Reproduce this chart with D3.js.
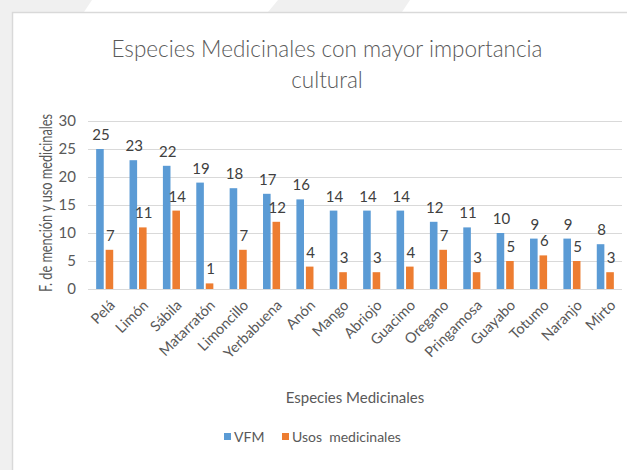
<!DOCTYPE html>
<html lang="es">
<head>
<meta charset="utf-8">
<title>Especies Medicinales</title>
<script src="https://cdnjs.cloudflare.com/ajax/libs/d3/7.8.5/d3.min.js"></script>
<style>
  body { margin: 0; background: #f0f0f0; }
  svg text { font-family: Lato, "Open Sans", sans-serif; fill: #595959; }
</style>
</head>
<body>
<div id="chart"></div>
<script>
// data
var especies = ["Pelá", "Limón", "Sábila", "Matarratón", "Limoncillo", "Yerbabuena", "Anón", "Mango",
                "Abriojo", "Guacimo", "Oregano", "Pringamosa", "Guayabo", "Totumo", "Naranjo", "Mirto"];
var vfm = [25, 23, 22, 19, 18, 17, 16, 14, 14, 14, 12, 11, 10, 9, 9, 8];
var usos = [7, 11, 14, 1, 7, 12, 4, 3, 3, 4, 7, 3, 5, 6, 5, 3];
var series = ["VFM", "Usos  medicinales"];
var colores = ["#5b9bd5", "#ed7d31"];
var yTicks = [0, 5, 10, 15, 20, 25, 30];

var width = 627, height = 470;
var svg = d3.select("#chart").append("svg")
    .attr("width", width)
    .attr("height", height);

// background decoration and card
svg.append("rect").attr("width", width).attr("height", height).attr("fill", "#f0f0f0");
svg.append("polygon").attr("points", "92,0 278,0 268,12 84,12").attr("fill", "#ffffff");
svg.append("polygon").attr("points", "410,0 627,0 627,12 402,12").attr("fill", "#ffffff");
svg.append("rect")
    .attr("x", 12.5).attr("y", 12.5)
    .attr("width", width).attr("height", height)
    .attr("fill", "#ffffff")
    .attr("stroke", "#d9d9d9")
    .attr("stroke-width", 1.5);

var x = d3.scaleBand().domain(especies).range([88, 622]);
var xs = d3.scaleBand().domain(series).range([0, x.bandwidth()]).paddingInner(0.2).paddingOuter(0.86);
var y = d3.scaleLinear().domain([0, 30]).range([289, 121]);

// gridlines
svg.append("g").selectAll("line")
  .data(yTicks)
  .join("line")
    .attr("x1", 88).attr("x2", 622)
    .attr("y1", d => y(d) + 0.5).attr("y2", d => y(d) + 0.5)
    .attr("stroke", "#d9d9d9")
    .attr("stroke-width", 1);

// y axis
var yAxis = svg.append("g")
    .attr("transform", "translate(80,0)")
    .call(d3.axisLeft(y).tickValues(yTicks).tickSize(0).tickPadding(4));
yAxis.select(".domain").remove();
yAxis.selectAll("text").attr("font-size", 15).style("font-family", "Lato, sans-serif").attr("fill", "#595959");

// bars
var filas = especies.map(function(e, i) {
  return { especie: e, valores: [vfm[i], usos[i]] };
});

var grupos = svg.append("g").selectAll("g")
  .data(filas)
  .join("g")
    .attr("transform", d => "translate(" + x(d.especie) + ",0)");

grupos.selectAll("rect")
  .data(d => d.valores.map((v, j) => ({ serie: series[j], v: v, j: j })))
  .join("rect")
    .attr("x", d => xs(d.serie))
    .attr("y", d => y(d.v))
    .attr("width", xs.bandwidth())
    .attr("height", d => y(0) - y(d.v))
    .attr("fill", d => colores[d.j]);

grupos.selectAll("text")
  .data(d => d.valores.map((v, j) => ({ serie: series[j], v: v })))
  .join("text")
    .attr("x", d => xs(d.serie) + xs.bandwidth() / 2 + 1)
    .attr("y", d => y(d.v) - 9)
    .attr("text-anchor", "middle")
    .attr("font-size", 15)
    .style("fill", "#404040")
    .text(d => d.v);

// x labels
svg.append("g").selectAll("text")
  .data(especies)
  .join("text")
    .attr("transform", d => "translate(" + (x(d) + x.bandwidth() / 2 + 4) + ",299) rotate(-45)")
    .attr("text-anchor", "end")
    .attr("dy", "0.7em")
    .attr("font-size", 14.5)
    .text(d => d);

// titles
svg.append("text")
    .attr("x", 327).attr("y", 57)
    .attr("text-anchor", "middle")
    .attr("font-size", 22.5)
    .attr("font-weight", 300)
    .text("Especies Medicinales con mayor importancia");
svg.append("text")
    .attr("x", 327).attr("y", 88)
    .attr("text-anchor", "middle")
    .attr("font-size", 22.5)
    .attr("font-weight", 300)
    .text("cultural");

svg.append("text")
    .attr("x", 355).attr("y", 403)
    .attr("text-anchor", "middle")
    .attr("font-size", 15)
    .text("Especies Medicinales");

svg.append("text")
    .attr("transform", "translate(52,203) rotate(-90)")
    .attr("text-anchor", "middle")
    .attr("font-size", 17.5)
    .attr("textLength", 178)
    .attr("lengthAdjust", "spacingAndGlyphs")
    .text("F. de mención y uso medicinales");

// legend
var leyenda = svg.append("g").selectAll("g")
  .data(series)
  .join("g")
    .attr("transform", (d, i) => "translate(" + [224, 282][i] + ",437)");
leyenda.append("rect")
    .attr("x", 0).attr("y", -4)
    .attr("width", 7).attr("height", 7)
    .attr("fill", (d, i) => colores[i]);
leyenda.append("text")
    .attr("x", 10).attr("y", 5)
    .attr("font-size", 14)
    .style("white-space", "pre")
    .text(d => d);
</script>
</body>
</html>
